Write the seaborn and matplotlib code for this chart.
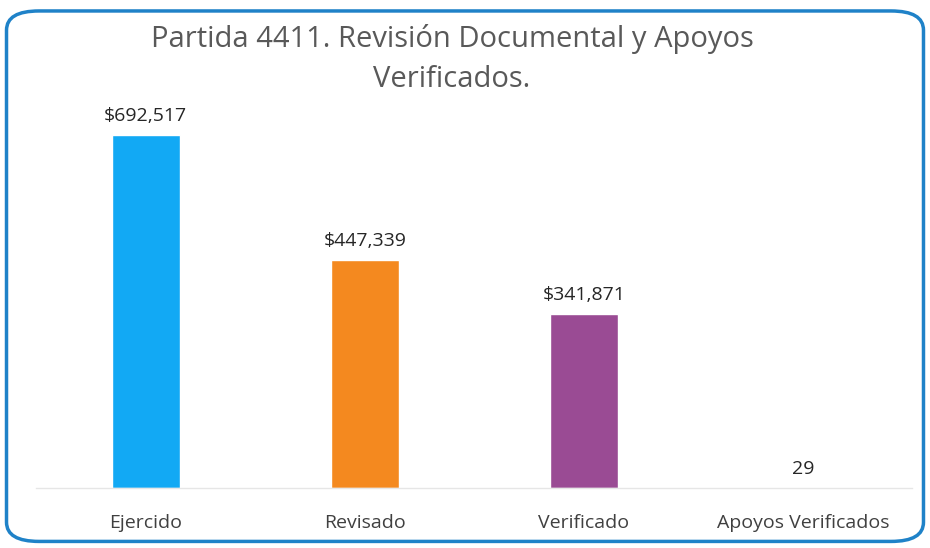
import matplotlib
matplotlib.use("Agg")
import matplotlib.pyplot as plt
import seaborn as sns
import pandas as pd
from matplotlib.patches import FancyBboxPatch

categorias = ["Ejercido", "Revisado", "Verificado", "Apoyos Verificados"]
valores = [692517, 447339, 341871, 29]
etiquetas = ["$692,517", "$447,339", "$341,871", "29"]
colores = ["#12a9f4", "#f4891f", "#9a4b94", "#70ad47"]

df = pd.DataFrame({"categoria": categorias, "valor": valores})

sns.set_theme(style="white")
plt.rcParams["font.family"] = ["Open Sans", "DejaVu Sans"]

fig = plt.figure(figsize=(9.3, 5.48), dpi=100)
ax = fig.add_axes([0.039, 0.1095, 0.942, 0.745])

sns.barplot(data=df, x="categoria", y="valor", hue="categoria",
            palette=colores, width=0.31, legend=False, ax=ax, saturation=1)

ax.set_ylim(0, 800000)
ax.set_xlim(-0.5, 3.5)
for cont, lab in zip(ax.containers, etiquetas):
    ax.bar_label(cont, labels=[lab], padding=7, fontsize=14,
                 color="#262626", fontweight="medium")

ax.set_xlabel("")
ax.set_ylabel("")
ax.set_yticks([])
ax.tick_params(axis="x", labelsize=14, colors="#404040", pad=19, length=0)
for s in ["left", "right", "top"]:
    ax.spines[s].set_visible(False)
ax.spines["bottom"].set_color("#e6e6e6")
ax.spines["bottom"].set_linewidth(1)

fig.text(0.486, 0.928, "Partida 4411. Revisión Documental y Apoyos",
         ha="center", va="center", fontsize=21, color="#595959")
fig.text(0.486, 0.855, "Verificados.", ha="center", va="center",
         fontsize=21, color="#595959")

borde = FancyBboxPatch((0.007, 0.012), 0.986, 0.968,
                       boxstyle="round,pad=0,rounding_size=0.035",
                       transform=fig.transFigure, fill=False,
                       edgecolor="#1f82c8", linewidth=2.5, zorder=10)
fig.patches.append(borde)

fig.savefig("out.png", dpi=100)
